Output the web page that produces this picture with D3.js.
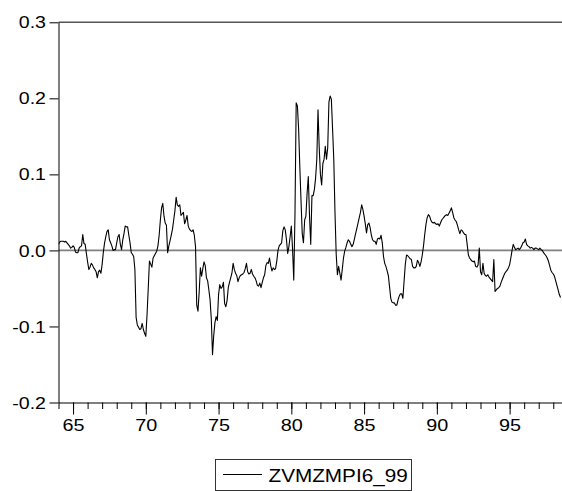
<!DOCTYPE html>
<html><head><meta charset="utf-8">
<script src="https://cdn.jsdelivr.net/npm/d3@7"></script>
<style>html,body{margin:0;padding:0;background:#fff;} svg{display:block;}</style>
</head><body>
<svg id="c" width="562" height="491"></svg>
<script>
// Monthly series, starting 1964:01 (x in two-digit years)
const startYear = 64;
const values = [
  /*1964*/ 0.008, 0.011, 0.012, 0.012, 0.012, 0.011, 0.012, 0.010, 0.008, 0.006, 0.003, 0.004,
  /*1965*/ 0.006, 0.004, -0.002, -0.003, -0.003, 0.003, 0.005, 0.006, 0.021, 0.009, 0.008, -0.004,
  /*1966*/ -0.015, -0.025, -0.022, -0.017, -0.019, -0.023, -0.025, -0.028, -0.036, -0.028, -0.026, -0.030,
  /*1967*/ -0.018, -0.002, 0.010, 0.018, 0.025, 0.027, 0.014, 0.010, 0.006, 0.000, 0.001, 0.001,
  /*1968*/ 0.010, 0.018, 0.021, 0.008, 0.001, 0.014, 0.022, 0.032, 0.031, 0.031, 0.020, 0.010,
  /*1969*/ -0.003, -0.005, -0.008, -0.025, -0.088, -0.098, -0.101, -0.104, -0.103, -0.096, -0.104, -0.109,
  /*1970*/ -0.113, -0.085, -0.050, -0.014, -0.018, -0.022, -0.010, -0.007, -0.004, -0.001, 0.006, 0.020,
  /*1971*/ 0.040, 0.056, 0.062, 0.045, 0.036, 0.033, -0.003, 0.006, 0.013, 0.020, 0.028, 0.040,
  /*1972*/ 0.052, 0.070, 0.060, 0.058, 0.060, 0.046, 0.048, 0.050, 0.035, 0.040, 0.046, 0.032,
  /*1973*/ 0.028, 0.026, 0.025, 0.027, 0.020, 0.005, -0.072, -0.080, -0.055, -0.023, -0.034, -0.024,
  /*1974*/ -0.015, -0.020, -0.036, -0.040, -0.052, -0.065, -0.090, -0.137, -0.112, -0.095, -0.087, -0.092,
  /*1975*/ -0.058, -0.045, -0.050, -0.048, -0.042, -0.070, -0.074, -0.066, -0.049, -0.042, -0.036, -0.030,
  /*1976*/ -0.017, -0.025, -0.030, -0.033, -0.041, -0.036, -0.033, -0.032, -0.031, -0.029, -0.024, -0.017,
  /*1977*/ -0.028, -0.031, -0.030, -0.025, -0.031, -0.034, -0.036, -0.040, -0.046, -0.047, -0.043, -0.049,
  /*1978*/ -0.042, -0.036, -0.032, -0.020, -0.016, -0.017, -0.010, -0.020, -0.027, -0.023, -0.025, -0.024,
  /*1979*/ -0.014, 0.000, 0.006, 0.008, 0.010, 0.026, 0.031, 0.027, 0.014, -0.004, 0.005, 0.018,
  /*1980*/ 0.032, 0.002, -0.039, 0.047, 0.194, 0.190, 0.160, 0.110, 0.065, 0.022, 0.010, 0.040,
  /*1981*/ 0.045, 0.075, 0.097, 0.045, 0.008, 0.072, 0.072, 0.080, 0.095, 0.120, 0.185, 0.135,
  /*1982*/ 0.100, 0.086, 0.114, 0.120, 0.137, 0.120, 0.135, 0.195, 0.203, 0.199, 0.160, 0.120,
  /*1983*/ 0.050, -0.005, -0.032, -0.021, -0.030, -0.039, -0.025, -0.010, -0.001, 0.004, 0.010, 0.014,
  /*1984*/ 0.012, 0.008, 0.005, 0.008, 0.015, 0.022, 0.029, 0.036, 0.043, 0.050, 0.060, 0.054,
  /*1985*/ 0.045, 0.035, 0.023, 0.034, 0.036, 0.030, 0.020, 0.014, 0.012, 0.012, 0.008, 0.015,
  /*1986*/ 0.016, 0.015, 0.020, 0.010, -0.008, -0.017, -0.021, -0.027, -0.033, -0.048, -0.063, -0.068,
  /*1987*/ -0.069, -0.069, -0.072, -0.072, -0.065, -0.060, -0.057, -0.057, -0.063, -0.040, -0.018, -0.006,
  /*1988*/ -0.007, -0.009, -0.011, -0.012, -0.021, -0.023, -0.023, -0.021, -0.013, -0.016, -0.021, -0.015,
  /*1989*/ -0.006, 0.006, 0.021, 0.034, 0.043, 0.047, 0.045, 0.040, 0.037, 0.036, 0.037, 0.035,
  /*1990*/ 0.034, 0.035, 0.032, 0.036, 0.040, 0.042, 0.044, 0.046, 0.047, 0.046, 0.049, 0.052,
  /*1991*/ 0.056, 0.050, 0.043, 0.040, 0.038, 0.033, 0.027, 0.022, 0.027, 0.026, 0.023, 0.021,
  /*1992*/ 0.021, 0.008, -0.006, -0.010, -0.012, -0.014, -0.015, -0.014, -0.021, -0.022, -0.019, 0.003,
  /*1993*/ -0.028, -0.032, -0.017, -0.030, -0.033, -0.034, -0.032, -0.035, -0.037, -0.039, -0.041, -0.012,
  /*1994*/ -0.054, -0.052, -0.050, -0.049, -0.047, -0.042, -0.038, -0.034, -0.030, -0.028, -0.026, -0.023,
  /*1995*/ -0.019, -0.010, 0.000, 0.008, 0.004, 0.001, 0.002, 0.003, 0.001, 0.003, 0.006, 0.010,
  /*1996*/ 0.011, 0.015, 0.008, 0.006, 0.005, 0.003, 0.004, 0.003, 0.001, 0.003, 0.003, 0.002,
  /*1997*/ 0.001, 0.003, 0.001, 0.000, -0.003, -0.005, -0.007, -0.010, -0.014, -0.020, -0.026, -0.029,
  /*1998*/ -0.031, -0.034, -0.040, -0.046, -0.052, -0.058, -0.062
];
const yTicks = [-0.2, -0.1, 0.0, 0.1, 0.2, 0.3];
const yTickLabels = ["-0.2", "-0.1", "0.0", "0.1", "0.2", "0.3"];
const xMinorTicks = d3.range(64, 99);
const xMajorTicks = [65, 70, 75, 80, 85, 90, 95];
const xTickLabels = ["65", "70", "75", "80", "85", "90", "95"];
const seriesName = "ZVMZMPI6_99";

const FONT = "'Liberation Sans', Arial, sans-serif";
const svg = d3.select("#c");
const x = d3.scaleLinear().domain([64, 98.6]).range([58.5, 562]);
const y = d3.scaleLinear().domain([-0.2, 0.3]).range([402.5, 22.3]);

// top frame line
svg.append("line").attr("x1", x.range()[0]).attr("x2", 562)
  .attr("y1", y(0.3)).attr("y2", y(0.3))
  .attr("stroke", "#555").attr("stroke-width", 1.6);

// zero line
svg.append("line").attr("x1", x.range()[0]).attr("x2", 562)
  .attr("y1", y(0)).attr("y2", y(0))
  .attr("stroke", "#808080").attr("stroke-width", 1.8);

// clip
svg.append("clipPath").attr("id", "clip").append("rect")
  .attr("x", 58.5).attr("y", 0).attr("width", 562 - 58.5).attr("height", 410);

const data = values.map((v, i) => ({ t: startYear + i / 12, v }));
svg.append("path").datum(data)
  .attr("clip-path", "url(#clip)")
  .attr("fill", "none").attr("stroke", "#000").attr("stroke-width", 1.1)
  .attr("stroke-linejoin", "round")
  .attr("d", d3.line().x(d => x(d.t)).y(d => y(d.v)));

// y axis
const yAxis = svg.append("g").attr("transform", `translate(${x.range()[0]},0)`)
  .call(d3.axisLeft(y).tickValues(yTicks).tickSize(9).tickSizeOuter(0)
    .tickFormat((d, i) => yTickLabels[i]));
yAxis.select(".domain").attr("stroke", "#000");
yAxis.selectAll(".tick line").attr("stroke", "#000");
yAxis.selectAll(".tick text")
  .attr("x", null).attr("dy", null).attr("y", 5.6)
  .attr("transform", "translate(-12.5,0) scale(1.2,1)")
  .attr("font-family", FONT).attr("font-size", 16.3).attr("fill", "#000")
  .attr("text-anchor", "end");

// x axis minor ticks
const xMinor = svg.append("g").attr("transform", `translate(0,${y(-0.2)})`)
  .call(d3.axisBottom(x).tickValues(xMinorTicks).tickSize(6.5).tickSizeOuter(0).tickFormat(""));
xMinor.select(".domain").attr("stroke", "#000");
xMinor.selectAll(".tick line").attr("stroke", "#000");

// x axis major ticks with labels
const xMajor = svg.append("g").attr("transform", `translate(0,${y(-0.2)})`)
  .call(d3.axisBottom(x).tickValues(xMajorTicks).tickSize(12).tickSizeOuter(0)
    .tickFormat((d, i) => xTickLabels[i]));
xMajor.select(".domain").remove();
xMajor.selectAll(".tick line").attr("stroke", "#000");
xMajor.selectAll(".tick text")
  .attr("dy", null).attr("y", 28.7)
  .attr("transform", "scale(1.2,1)")
  .attr("font-family", FONT).attr("font-size", 16.5).attr("fill", "#000");

// legend
const lg = svg.append("g");
lg.append("rect").attr("x", 215.5).attr("y", 459.5).attr("width", 196).attr("height", 31)
  .attr("fill", "none").attr("stroke", "#333").attr("stroke-width", 1);
lg.append("line").attr("x1", 223).attr("x2", 262).attr("y1", 474.5).attr("y2", 474.5)
  .attr("stroke", "#000").attr("stroke-width", 1);
lg.append("text").text(seriesName)
  .attr("transform", "translate(268.5,481.7) scale(1.12,1)")
  .attr("font-family", FONT).attr("font-size", 18.5).attr("fill", "#000");
</script>
</body></html>
